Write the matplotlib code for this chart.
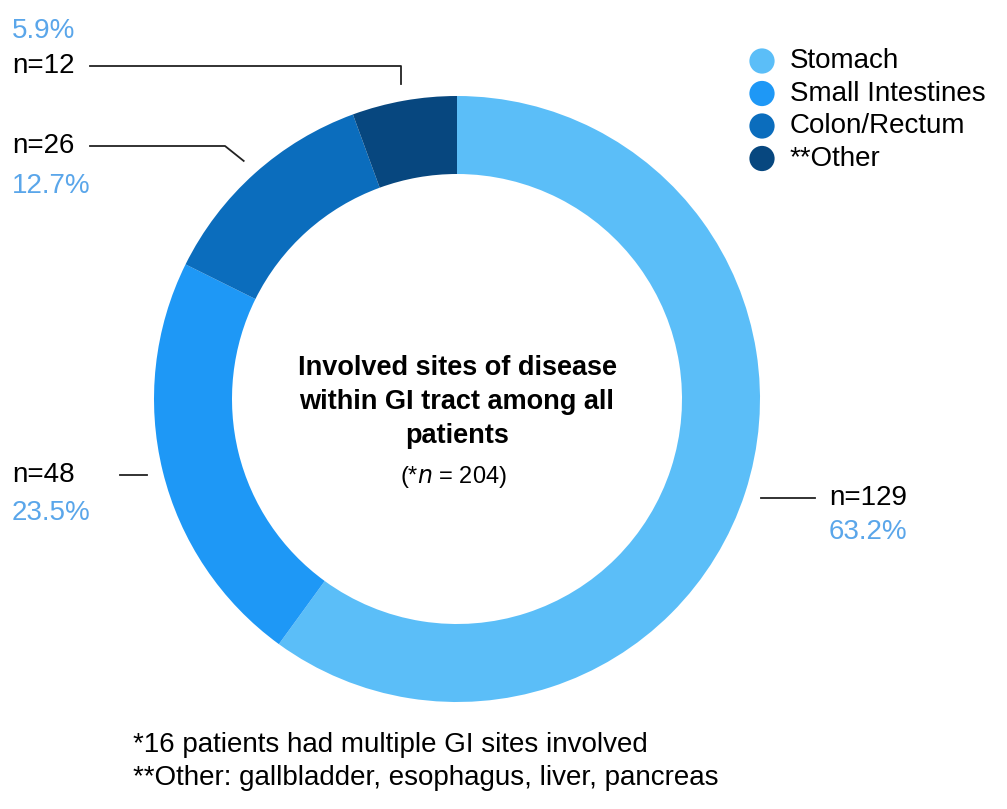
import numpy as np
import matplotlib.pyplot as plt

# Datos del gráfico
sites = ['Stomach', 'Small Intestines', 'Colon/Rectum', '**Other']
counts = [129, 48, 26, 12]
percents = ['63.2%', '23.5%', '12.7%', '5.9%']
colors = ['#5BBEF8', '#1E98F6', '#0B6DBD', '#07477F']
pct_color = '#5AA6EA'

plt.rcParams['font.family'] = ['Liberation Sans', 'DejaVu Sans']

W, H = 1007, 809
fig = plt.figure(figsize=(W / 100, H / 100), dpi=100)
ax = fig.add_axes([0, 0, 1, 1])

cx, cy, R = 457, H - 399, 303
wedges, _ = ax.pie(counts, colors=colors, startangle=90, counterclock=False,
                   center=(cx, cy), radius=R,
                   wedgeprops=dict(width=78, linewidth=0))
ax.set_xlim(0, W)
ax.set_ylim(0, H)
ax.set_aspect('equal')
ax.axis('off')


def anchor(w, r=1.055):
    ang = np.deg2rad((w.theta1 + w.theta2) / 2)
    return cx + R * r * np.cos(ang), cy + R * r * np.sin(ang)


lw = 1.3
fs = 20

# Stomach (derecha)
x0, y0 = anchor(wedges[0])
ax.plot([x0, 815], [y0, y0], color='#222222', lw=lw)
ax.text(829, y0, f'n={counts[0]}', fontsize=fs, va='center', ha='left')
ax.text(829, y0 - 34, percents[0], fontsize=fs, va='center', ha='left', color=pct_color)

# Small Intestines
x0, y0 = anchor(wedges[1])
ax.plot([120, x0], [y0, y0], color='#222222', lw=lw)
ax.text(12, y0, f'n={counts[1]}', fontsize=fs, va='center', ha='left')
ax.text(12, y0 - 38, percents[1], fontsize=fs, va='center', ha='left', color=pct_color)

# Colon/Rectum
x0, y0 = anchor(wedges[2])
yl = H - 146
ax.plot([90, 225, x0], [yl, yl, y0], color='#222222', lw=lw)
ax.text(12, yl, f'n={counts[2]}', fontsize=fs, va='center', ha='left')
ax.text(12, yl - 40, percents[2], fontsize=fs, va='center', ha='left', color=pct_color)

# Other
x0, y0 = anchor(wedges[3])
yl = H - 66
ax.plot([90, x0, x0], [yl, yl, y0], color='#222222', lw=lw)
ax.text(12, yl, f'n={counts[3]}', fontsize=fs, va='center', ha='left')
ax.text(12, yl + 35, percents[3], fontsize=fs, va='center', ha='left', color=pct_color)

# Texto central
ax.text(cx, H - 402, 'Involved sites of disease\nwithin GI tract among all\npatients',
        fontsize=19.5, fontweight='bold', ha='center', va='center', linespacing=1.38)
ax.text(cx - 4, H - 477, r'(*$n$ = 204)', fontsize=17, ha='center', va='center')

# Leyenda
for i, (s, c) in enumerate(zip(sites, colors)):
    yy = H - 61 - i * 32.5
    ax.scatter([762], [yy], s=330, color=c, edgecolors='none')
    ax.text(790, yy, s, fontsize=fs, va='center', ha='left')

# Notas al pie
ax.text(133, H - 745, '*16 patients had multiple GI sites involved', fontsize=20, va='center')
ax.text(133, H - 778, '**Other: gallbladder, esophagus, liver, pancreas', fontsize=20, va='center')

fig.savefig('out.png', dpi=100, facecolor='white')
